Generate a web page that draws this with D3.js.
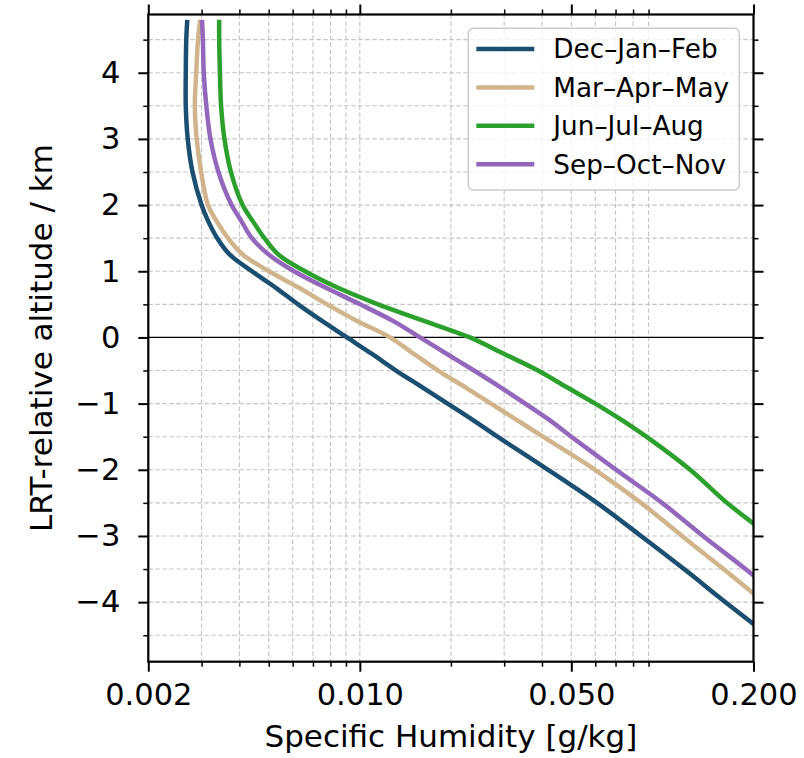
<!DOCTYPE html>
<html>
<head>
<meta charset="utf-8">
<script src="https://cdn.jsdelivr.net/npm/d3@7"></script>
<style>
  body { margin: 0; background: #fff; }
  text { font-family: "DejaVu Sans", sans-serif; fill: #000; }
</style>
</head>
<body>
<svg width="804" height="758"></svg>
<script>
// altitude levels relative to the lapse-rate tropopause (km)
let altitude = [4.8, 4.5, 4, 3.5, 3, 2.5, 2, 1.75, 1.5, 1.25, 1, 0.75, 0.5, 0.25, 0,
  -0.25, -0.5, -0.75, -1, -1.25, -1.5, -2, -2.5, -3, -3.5, -4, -4.5];

// specific humidity [g/kg] per season
let djf = [0.00269, 0.00267, 0.00266, 0.00266, 0.00270, 0.00280, 0.00300, 0.00316, 0.00338, 0.00372,
  0.00440, 0.00528, 0.00625, 0.00750, 0.00907, 0.01097, 0.01317, 0.01605, 0.0195, 0.02367,
  0.0285, 0.0419, 0.0608, 0.0850, 0.1179, 0.1616, 0.2233];
let mam = [0.00297, 0.00292, 0.00288, 0.00285, 0.00289, 0.00299, 0.00315, 0.00337, 0.00367, 0.00411,
  0.00501, 0.00630, 0.00779, 0.00979, 0.01258, 0.0151, 0.01813, 0.02226, 0.02714, 0.0331,
  0.0403, 0.0599, 0.0850, 0.1161, 0.1592, 0.2166, 0.296];
let jja = [0.00343, 0.00343, 0.00345, 0.00348, 0.00357, 0.00375, 0.00410, 0.00444, 0.00484, 0.00539,
  0.00659, 0.00847, 0.01149, 0.0163, 0.0231, 0.0300, 0.0388, 0.0482, 0.0600, 0.0735,
  0.0885, 0.1235, 0.1635, 0.2268, 0.319, 0.45, 0.63];
let son = [0.00301, 0.00303, 0.00305, 0.00311, 0.00321, 0.00341, 0.00377, 0.00407, 0.00440, 0.00501,
  0.00606, 0.00773, 0.01002, 0.01287, 0.01581, 0.01941, 0.02384, 0.0291, 0.0352, 0.0424,
  0.0500, 0.0703, 0.0997, 0.1362, 0.1882, 0.256, 0.347];

let seasons = ["Dec–Jan–Feb", "Mar–Apr–May", "Jun–Jul–Aug", "Sep–Oct–Nov"];
let colors = ["#1b4f72", "#d2b48c", "#2ca02c", "#9467bd"];

let xMajor = [0.002, 0.01, 0.05, 0.2];
let xLabels = ["0.002", "0.010", "0.050", "0.200"];
let xMinor = [0.003, 0.004, 0.005, 0.006, 0.007, 0.008, 0.009, 0.02, 0.03, 0.04, 0.06, 0.07, 0.08, 0.09];
let yMajor = [-4, -3, -2, -1, 0, 1, 2, 3, 4];
let yMinor = [-4.5, -3.5, -2.5, -1.5, -0.5, 0.5, 1.5, 2.5, 3.5, 4.5];

let svg = d3.select("svg");
let x0 = 148.3, x1 = 753.5, y0 = 14.5, y1 = 661.7;

let x = d3.scaleLog().domain([0.002, 0.2]).range([x0, x1]);
let y = d3.scaleLinear().domain([-4.9, 4.88]).range([y1, y0]);

svg.append("clipPath").attr("id", "plot")
  .append("rect")
  .attr("x", x0).attr("y", y0)
  .attr("width", x1 - x0).attr("height", y1 - y0);

// grid
let grid = svg.append("g").attr("stroke", "#c4c4c4").attr("stroke-width", 1.1).attr("stroke-dasharray", "4.5,2.5");
grid.selectAll(".vx").data(xMajor.concat(xMinor)).enter().append("line")
  .attr("x1", d => x(d)).attr("x2", d => x(d))
  .attr("y1", y0).attr("y2", y1);
grid.selectAll(".hy").data(yMajor.concat(yMinor)).enter().append("line")
  .attr("x1", x0).attr("x2", x1)
  .attr("y1", d => y(d)).attr("y2", d => y(d));

// zero line
svg.append("line")
  .attr("x1", x0).attr("x2", x1)
  .attr("y1", y(0)).attr("y2", y(0))
  .attr("stroke", "#000").attr("stroke-width", 1.3);

// profiles
let series = [djf, mam, jja, son];
let line = d3.line().x(d => x(d[0])).y(d => y(d[1])).curve(d3.curveCatmullRom.alpha(0.5));
let plot = svg.append("g").attr("clip-path", "url(#plot)");
series.forEach((s, i) => {
  plot.append("path")
    .datum(s.map((q, j) => [q, altitude[j]]))
    .attr("d", line)
    .attr("fill", "none")
    .attr("stroke", colors[i])
    .attr("stroke-width", 4.5)
    .attr("stroke-linejoin", "round");
});

// axes
const styleAxis = (g, width) => {
  g.select(".domain").remove();
  g.selectAll(".tick line").attr("stroke", "#000").attr("stroke-width", width);
  g.selectAll(".tick text").attr("font-size", 30.5).attr("font-family", "DejaVu Sans");
};

svg.append("g").attr("transform", "translate(0," + y1 + ")")
  .call(d3.axisBottom(x).tickValues(xMajor).tickFormat((d, i) => xLabels[i]).tickSize(10).tickPadding(11.5))
  .call(g => styleAxis(g, 2));
svg.append("g").attr("transform", "translate(0," + y1 + ")")
  .call(d3.axisBottom(x).tickValues(xMinor).tickFormat("").tickSize(5))
  .call(g => styleAxis(g, 1.5));
svg.append("g").attr("transform", "translate(0," + y0 + ")")
  .call(d3.axisTop(x).tickValues(xMajor).tickFormat("").tickSize(10))
  .call(g => styleAxis(g, 2));
svg.append("g").attr("transform", "translate(0," + y0 + ")")
  .call(d3.axisTop(x).tickValues(xMinor).tickFormat("").tickSize(5))
  .call(g => styleAxis(g, 1.5));

svg.append("g").attr("transform", "translate(" + x0 + ",0)")
  .call(d3.axisLeft(y).tickValues(yMajor).tickFormat(d => d3.format("d")(d).replace("-", "\u2212")).tickSize(10).tickPadding(18))
  .call(g => styleAxis(g, 2));
svg.append("g").attr("transform", "translate(" + x0 + ",0)")
  .call(d3.axisLeft(y).tickValues(yMinor).tickFormat("").tickSize(5))
  .call(g => styleAxis(g, 1.5));
svg.append("g").attr("transform", "translate(" + x1 + ",0)")
  .call(d3.axisRight(y).tickValues(yMajor).tickFormat("").tickSize(10))
  .call(g => styleAxis(g, 2));
svg.append("g").attr("transform", "translate(" + x1 + ",0)")
  .call(d3.axisRight(y).tickValues(yMinor).tickFormat("").tickSize(5))
  .call(g => styleAxis(g, 1.5));

// frame
svg.append("rect")
  .attr("x", x0).attr("y", y0)
  .attr("width", x1 - x0).attr("height", y1 - y0)
  .attr("fill", "none").attr("stroke", "#000").attr("stroke-width", 2.2);

// axis labels
svg.append("text")
  .attr("x", (x0 + x1) / 2).attr("y", 747)
  .attr("text-anchor", "middle").attr("font-size", 31)
  .text("Specific Humidity [g/kg]");
svg.append("text")
  .attr("transform", "translate(52," + (y0 + y1) / 2 + ") rotate(-90)")
  .attr("text-anchor", "middle").attr("font-size", 31)
  .text("LRT-relative altitude / km");

// legend
let legend = svg.append("g").attr("transform", "translate(468.3,28.3)");
legend.append("rect")
  .attr("width", 271).attr("height", 161.7).attr("rx", 5)
  .attr("fill", "#fff").attr("fill-opacity", 0.8)
  .attr("stroke", "#cccccc").attr("stroke-width", 1.5);
let item = legend.selectAll(".item").data(seasons).enter().append("g")
  .attr("transform", (d, i) => "translate(0," + (20.7 + i * 38.4) + ")");
item.append("line")
  .attr("x1", 8).attr("x2", 66)
  .attr("stroke", (d, i) => colors[i]).attr("stroke-width", 4.5);
item.append("text")
  .attr("x", 85).attr("dy", "0.36em")
  .attr("font-size", 26.3)
  .text(d => d);
</script>
</body>
</html>
